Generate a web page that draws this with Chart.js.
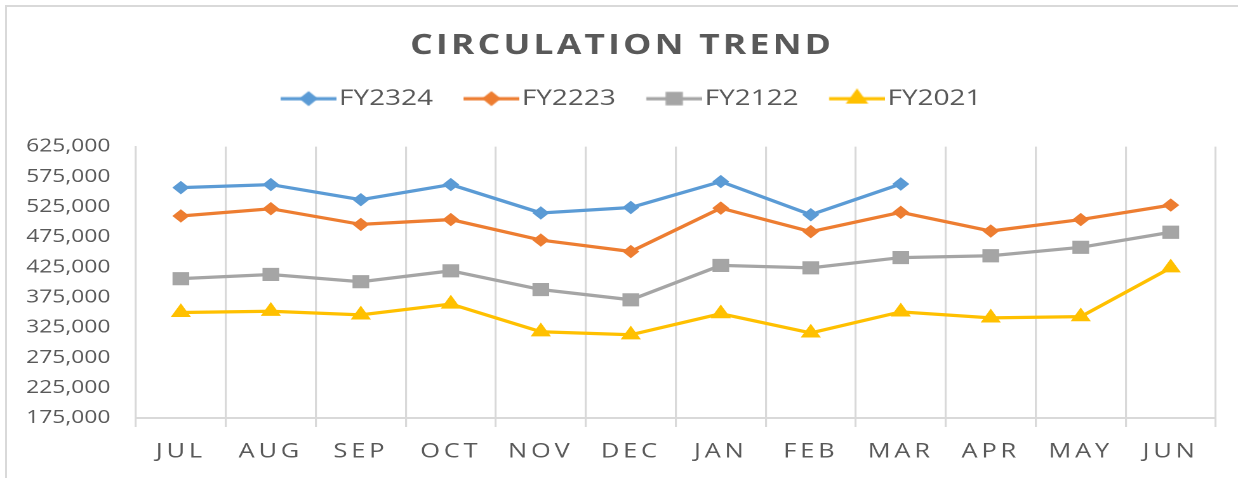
<!DOCTYPE html>
<html><head><meta charset="utf-8">
<script src="https://cdn.jsdelivr.net/npm/chart.js@4.4.1/dist/chart.umd.min.js"></script>
<style>
html,body{margin:0;padding:0;background:#fff;overflow:hidden;width:1238px;height:478px;}
#frame{position:absolute;left:5px;top:5px;width:1400px;height:600px;border-left:2px solid #d9d9d9;border-top:2px solid #d9d9d9;}
#wrap{position:absolute;left:0;top:0;width:975px;height:478px;transform:scaleX(1.2697);transform-origin:0 0;}
</style></head><body>
<div id="frame"></div>
<div id="wrap"><canvas id="c" width="975" height="478"></canvas></div>
<script>
const months = ['JUL','AUG','SEP','OCT','NOV','DEC','JAN','FEB','MAR','APR','MAY','JUN'];
const seriesNames = ['FY2324','FY2223','FY2122','FY2021'];
const fy2324 = [557000, 562000, 537000, 562000, 515000, 524000, 567000, 512000, 563000];
const fy2223 = [510000, 522000, 496000, 504000, 470000, 451000, 523000, 484000, 516000, 485000, 504000, 528000];
const fy2122 = [406000, 413000, 401000, 419000, 388000, 371000, 428000, 424000, 441000, 444000, 458000, 483000];
const fy2021 = [350000, 352000, 346000, 364000, 318000, 313000, 348000, 316000, 351000, 341000, 343000, 424000];
const yTickMin = 175000, yTickMax = 625000, yTickStep = 50000;

const TEXT = '#595959', GRID = '#d9d9d9';
const colors = ['#5B9BD5','#ED7D31','#A5A5A5','#FFC000'];
const styles = ['rectRot','rectRot','rect','triangle'];
const radii = [6, 6, 8.6, 8.2];

// category scale with letter-spaced labels
class SpacedCategory extends Chart.CategoryScale {
  drawLabels(area){ const ctx=this.ctx; ctx.save(); ctx.letterSpacing='3px'; super.drawLabels(area); ctx.restore(); }
}
SpacedCategory.id = 'spacedCategory';
SpacedCategory.defaults = Chart.CategoryScale.defaults;
Chart.register(SpacedCategory);

// letter-spaced title
try {
  const TitleEl = Chart.Title._element;
  const od = TitleEl.prototype.draw;
  TitleEl.prototype.draw = function(){ const ctx=this.ctx; ctx.save(); ctx.letterSpacing='2.5px'; od.call(this); ctx.restore(); };
} catch(e) {}

// legend icon: transparent lead-in, then line with marker
const LEG_BOX = 49, LEG_FS = 22;
function legendIcon(i){
  const W = LEG_BOX + 18, H = 20, lineLen = 44;
  const c = document.createElement('canvas'); c.width = W; c.height = H;
  const g = c.getContext('2d');
  const x0 = W - lineLen;
  g.strokeStyle = colors[i]; g.lineWidth = 3.25;
  g.beginPath(); g.moveTo(x0, H/2); g.lineTo(W, H/2); g.stroke();
  g.fillStyle = colors[i]; g.strokeStyle = colors[i];
  Chart.helpers.drawPoint(g, {pointStyle: styles[i], radius: radii[i]*0.85, borderWidth: 1, rotation: 0}, x0 + lineLen/2, H/2);
  return c;
}

const allData = [fy2324, fy2223, fy2122, fy2021];
const datasets = allData.map((d, i) => ({
  label: seriesNames[i],
  data: d,
  borderColor: colors[i],
  backgroundColor: colors[i],
  borderWidth: 3.25,
  pointStyle: styles[i],
  pointRadius: radii[i],
  pointHoverRadius: radii[i],
  pointBorderWidth: 1,
  pointBackgroundColor: colors[i],
  pointBorderColor: colors[i],
  tension: 0,
  fill: false
}));

const dummy = (pos, size) => ({
  type: pos === 'top' ? 'category' : 'linear',
  position: pos, display: true,
  grid: { display: false, drawTicks: false }, border: { display: false },
  ticks: { display: false },
  afterFit(s){ if (pos === 'top') s.height = size; else s.width = size; }
});

new Chart(document.getElementById('c'), {
  type: 'line',
  data: { labels: months, datasets },
  options: {
    responsive: false,
    devicePixelRatio: 2,
    animation: false,
    layout: { padding: { left: 5, right: 0, top: 0, bottom: 0 } },
    plugins: {
      title: {
        display: true, text: 'CIRCULATION TREND', color: TEXT,
        font: { family: "'Open Sans'", size: 28, weight: 'bold' },
        padding: { top: 29, bottom: 15 }
      },
      legend: {
        position: 'top',
        labels: {
          color: TEXT, font: { family: "'Open Sans'", size: LEG_FS },
          usePointStyle: true, pointStyleWidth: LEG_BOX, boxHeight: 20, padding: 10,
          generateLabels(chart){
            return chart.data.datasets.map((ds, i) => ({
              text: ds.label, fillStyle: colors[i], strokeStyle: colors[i], lineWidth: 0,
              pointStyle: legendIcon(i), hidden: false, datasetIndex: i, fontColor: TEXT
            }));
          }
        }
      },
      tooltip: { enabled: false }
    },
    scales: {
      x: {
        type: 'spacedCategory',
        offset: true,
        grid: { display: true, offset: true, color: GRID, lineWidth: 1.6, drawTicks: true, tickLength: 9 },
        border: { display: true, color: GRID, width: 2 },
        ticks: { color: TEXT, font: { family: "'Open Sans'", size: 20 }, maxRotation: 0, autoSkip: false, padding: 13 },
        afterFit(s){ s.height = 60; }
      },
      y: {
        min: yTickMin, max: yTickMax,
        grid: { display: false, drawTicks: true, tickLength: 8 },
        border: { display: true, color: GRID, width: 1.6 },
        ticks: { stepSize: yTickStep, color: TEXT, font: { family: "'Open Sans'", size: 18 },
          padding: 12, callback: v => v.toLocaleString('en-US') },
        afterFit(s){ s.width = 102; }
      },
      xTopSpace: dummy('top', 27),
      yRightSpace: dummy('right', 17.5)
    }
  }
});
</script>
</body></html>
